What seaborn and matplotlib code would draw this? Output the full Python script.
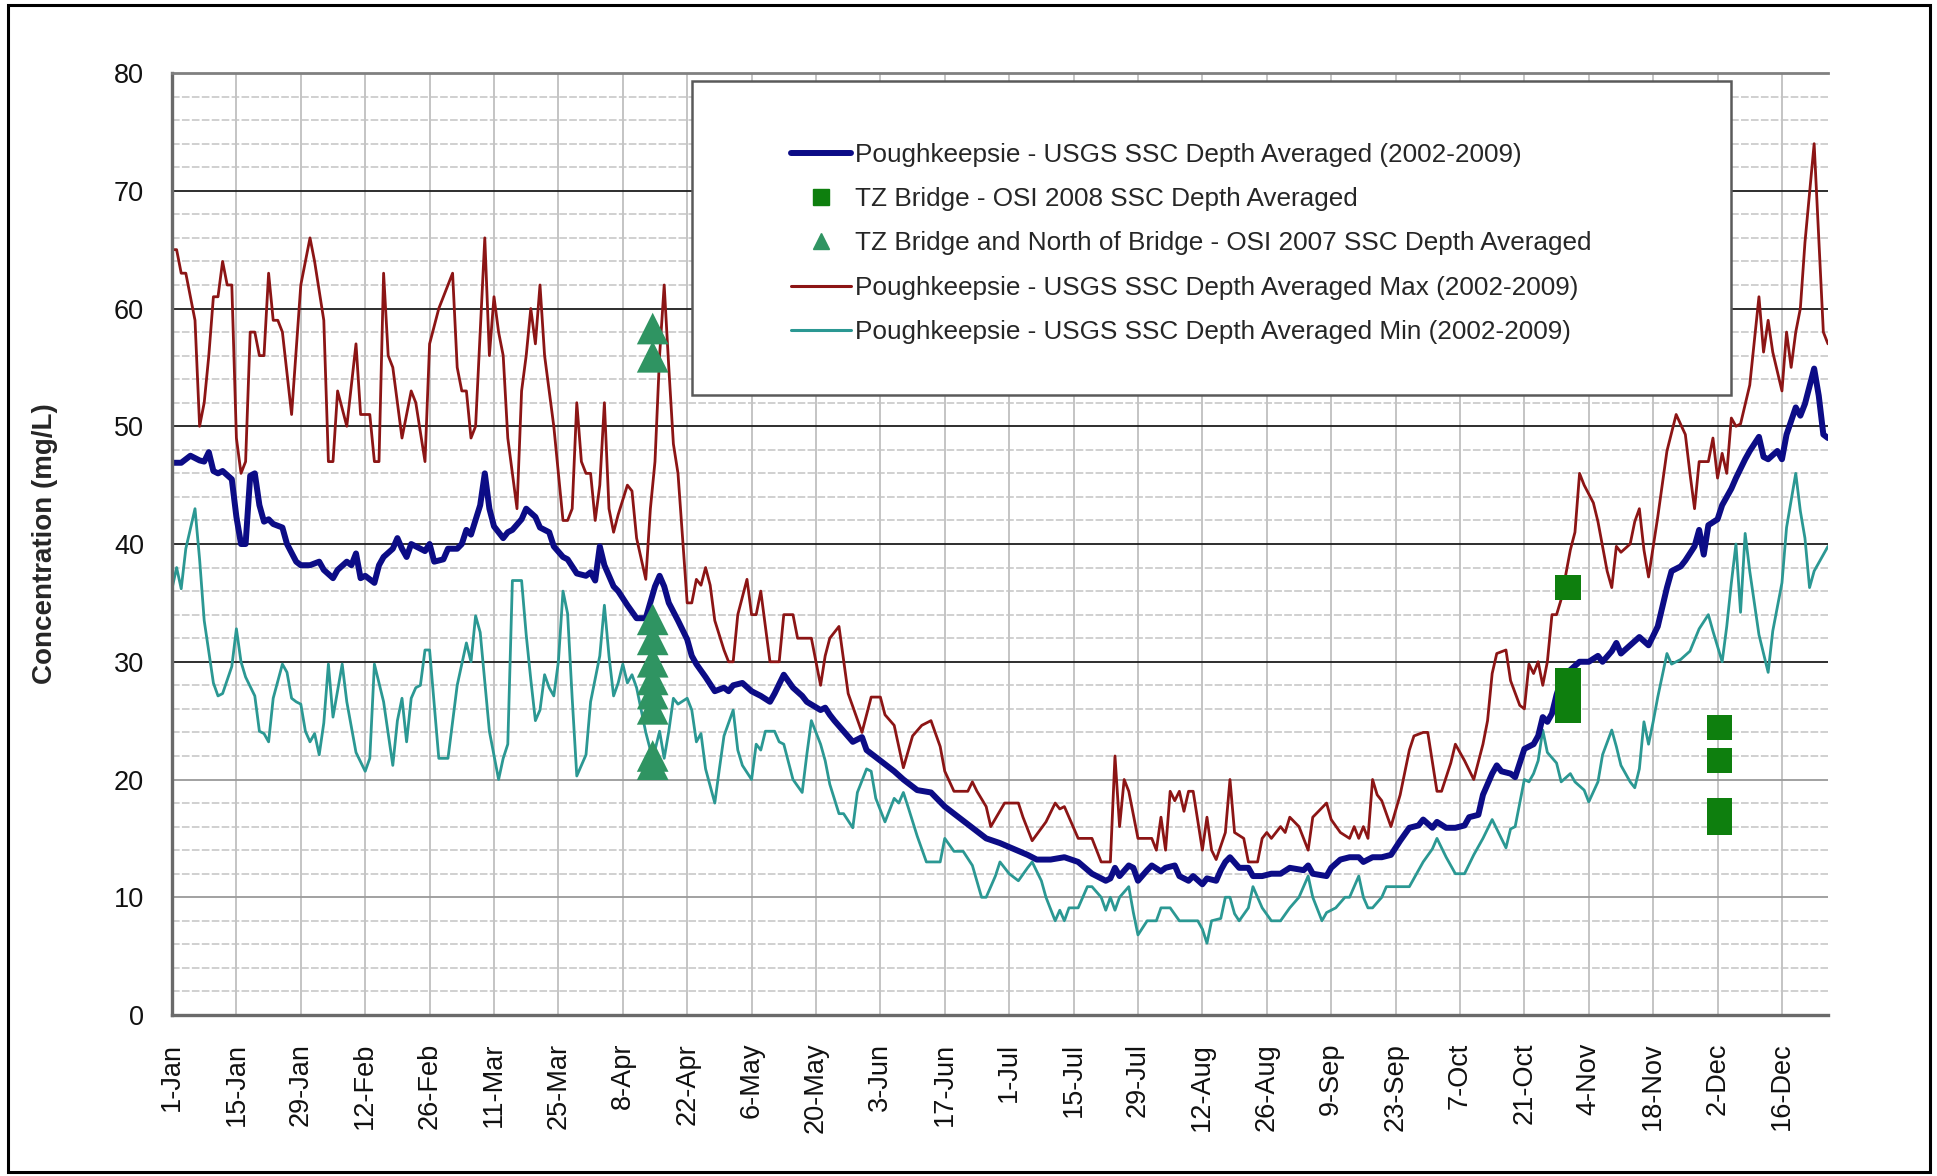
import seaborn as sns
import matplotlib.pyplot as plt
import numpy as np
from matplotlib.lines import Line2D
from matplotlib.patches import Rectangle
from matplotlib.ticker import MultipleLocator

sns.set_style("white")
plt.rcParams['font.family'] = ['Liberation Sans', 'DejaVu Sans']

# x axis: day of year (2008), ticks every 14 days
tick_labels = ['1-Jan', '15-Jan', '29-Jan', '12-Feb', '26-Feb', '11-Mar', '25-Mar',
               '8-Apr', '22-Apr', '6-May', '20-May', '3-Jun', '17-Jun', '1-Jul',
               '15-Jul', '29-Jul', '12-Aug', '26-Aug', '9-Sep', '23-Sep', '7-Oct',
               '21-Oct', '4-Nov', '18-Nov', '2-Dec', '16-Dec']

# Poughkeepsie max (2002-2009)
max_days = [0, 1, 2, 3, 5, 6, 7, 8, 9, 10, 11, 12, 13, 14, 15, 16, 17, 18, 19, 20,
            21, 22, 23, 24, 26, 28, 30, 31, 33, 34, 35, 36, 38, 40, 41, 43, 44, 45, 46, 47,
            48, 50, 52, 53, 55, 56, 58, 61, 62, 63, 64, 65, 66, 68, 69, 70, 71,
            72, 73, 75, 76, 77, 78, 79, 80, 81, 83, 85, 86, 87, 88, 89, 90, 91, 92, 93,
            94, 95, 96, 97, 99, 100, 101, 103, 104, 105, 106, 107, 108, 109, 110, 112, 113,
            114, 115, 116, 117, 118, 120, 121, 122, 123, 125, 126, 127, 128, 130, 132, 133,
            135, 136, 139, 141, 142, 143, 145, 147, 150, 152, 154, 155, 157, 159, 161, 163,
            165, 167, 168, 170, 173, 174, 175, 177, 178, 181, 184, 185, 187, 190, 192, 193,
            194, 197, 200, 202, 204, 205, 206, 207, 208, 210, 213, 214, 215, 216, 217, 218,
            219, 220, 221, 222, 224, 225, 226, 227, 229, 230, 231, 233, 234, 236, 237, 238,
            239, 241, 242, 243, 245, 247, 248, 251, 252, 254, 256, 257, 258, 259, 260, 261,
            262, 263, 265, 267, 269, 270, 272, 273, 275, 276, 278, 279, 281, 283, 285, 286,
            287, 288, 290, 291, 293, 294, 295, 296, 297, 298, 299, 300, 301, 302, 304, 305,
            306, 307, 309, 310, 312, 313, 314, 315, 317, 318, 319, 320, 321, 323, 325, 327,
            329, 330, 331, 332, 334, 335, 336, 337, 338, 339, 340, 341, 343, 345, 346, 347,
            348, 350, 351, 352, 353, 354, 355, 357, 358, 359, 360]
max_vals = [65, 65, 63, 63, 59, 50, 52, 56, 61, 61, 64, 62, 62, 49, 46, 47, 58, 58, 56, 56,
            63, 59, 59, 58, 51, 62, 66, 64, 59, 47, 47, 53, 50, 57, 51, 51, 47, 47, 63, 56,
            55, 49, 53, 52, 47, 57, 60, 63, 55, 53, 53, 49, 50, 66, 56, 61, 58,
            56, 49, 43, 53, 56, 60, 57, 62, 56, 50, 42, 42, 43, 52, 47, 46, 46, 42, 45,
            52, 43, 41, 42.5, 45, 44.5, 40.5, 37, 43, 47, 56, 62, 55, 48.5, 46, 35, 35,
            37, 36.5, 38, 36.5, 33.5, 31, 30, 30, 34, 37, 34, 34, 36, 30, 30, 34,
            34, 32, 32, 28, 30.5, 32, 33, 27.3, 24, 27, 27, 25.5, 24.6, 21, 23.7, 24.6,
            25, 22.8, 20.7, 19, 19, 19.8, 19, 17.7, 16, 18, 18, 16.8, 14.8, 16.4, 18, 17.5,
            17.7, 15, 15, 13, 13, 22, 16, 20, 19, 15, 15, 14, 16.8, 14, 19, 18.2,
            19, 17.3, 19, 19, 14, 16.8, 14, 13.2, 15.5, 20, 15.5, 15, 13, 13, 15, 15.5,
            15, 16, 15.5, 16.8, 16, 14, 16.8, 18, 16.6, 15.5, 15, 16, 15, 16, 15, 20,
            18.7, 18.2, 16, 18.7, 22.5, 23.7, 24, 24, 19, 19, 21.4, 23, 21.6, 20, 23, 25,
            29, 30.7, 31, 28.4, 26.3, 26, 29.8, 29, 30, 28, 30, 34, 34, 35.3, 39.5, 41,
            46, 45, 43.5, 41.9, 37.7, 36.3, 39.8, 39.3, 40, 41.9, 43, 39.5, 37.2, 42.3, 47.9, 51,
            49.3, 46, 43, 47, 47, 49, 45.6, 47.7, 46, 50.7, 50, 50.2, 53.5, 61, 56.3, 59,
            56.3, 53, 58, 55, 58, 60, 65.6, 74, 66, 58, 57]

# Poughkeepsie depth averaged (2002-2009)
mean_days = [0, 2, 4, 6, 7, 8, 9, 10, 11, 13, 14, 15, 16, 17, 18, 19, 20, 21, 22, 24,
             25, 27, 28, 30, 32, 33, 35, 36, 38, 39, 40, 41, 42, 44, 45, 46, 48, 49, 50, 51,
             52, 54, 55, 56, 57, 59, 60, 62, 63, 64, 65, 67, 68, 69, 70, 72, 73, 74, 76, 77,
             79, 80, 82, 83, 85, 86, 88, 90, 91, 92, 93, 94, 96, 97, 99, 101, 103, 105, 106, 107,
             108, 110, 112, 113, 114, 116, 118, 120, 121, 122, 124, 126, 128, 130, 131, 133, 135, 137, 138, 141,
             142, 143, 144, 146, 148, 150, 151, 154, 157, 159, 162, 165, 168, 171, 174, 177, 180, 183, 186, 188,
             191, 194, 197, 200, 203, 204, 205, 206, 208, 209, 210, 212, 213, 215, 216, 218, 219, 221, 222, 224,
             225, 227, 228, 229, 230, 232, 234, 235, 237, 239, 241, 243, 246, 247, 248, 251, 252, 254, 256, 258,
             259, 261, 263, 265, 267, 269, 271, 272, 274, 275, 277, 279, 281, 282, 284, 285, 287, 288, 289, 291,
             292, 293, 294, 296, 297, 298, 299, 300, 301, 302, 304, 306, 308, 310, 311, 313, 314, 315, 317, 319,
             321, 323, 325, 326, 328, 329, 331, 332, 333, 334, 336, 337, 339, 340, 342, 343, 345, 346, 347, 349,
             350, 351, 353, 354, 355, 357, 358, 359, 360]
mean_vals = [46.9, 46.9, 47.5, 47.1, 47, 47.8, 46.2, 46, 46.2, 45.5, 42.3, 40, 40, 45.8, 46, 43.3, 41.9, 42.1, 41.7, 41.4,
             40, 38.5, 38.2, 38.2, 38.5, 37.8, 37.1, 37.8, 38.5, 38.2, 39.2, 37.1, 37.3, 36.7, 38.2, 38.9, 39.6, 40.5, 39.6, 38.9,
             40, 39.6, 39.4, 40, 38.5, 38.7, 39.6, 39.6, 40, 41.2, 40.8, 43.3, 46, 43, 41.5, 40.5, 41, 41.2, 42.1, 43,
             42.3, 41.4, 41, 39.8, 38.9, 38.7, 37.5, 37.3, 37.6, 36.9, 39.8, 38.2, 36.4, 36, 34.8, 33.7, 33.7, 36.4, 37.3, 36.4,
             35, 33.5, 31.9, 30.5, 29.8, 28.7, 27.5, 27.8, 27.5, 28, 28.2, 27.5, 27.1, 26.6, 27.3, 28.9, 27.8, 27.1, 26.6, 25.9,
             26.1, 25.5, 25, 24.1, 23.2, 23.6, 22.5, 21.6, 20.7, 20, 19.1, 18.9, 17.7, 16.8, 15.9, 15, 14.6, 14.1, 13.6, 13.2,
             13.2, 13.4, 13, 12, 11.4, 11.6, 12.5, 11.8, 12.7, 12.5, 11.4, 12.3, 12.7, 12.2, 12.5, 12.7, 11.8, 11.4, 11.8, 11.1,
             11.6, 11.4, 12.3, 13, 13.4, 12.5, 12.5, 11.8, 11.8, 12, 12, 12.5, 12.3, 12.7, 12, 11.8, 12.5, 13.2, 13.4, 13.4,
             13, 13.4, 13.4, 13.6, 14.8, 15.9, 16.1, 16.6, 15.9, 16.4, 15.9, 15.9, 16.1, 16.8, 17, 18.7, 20.5, 21.2, 20.7, 20.5,
             20.2, 21.4, 22.6, 23, 23.7, 25.3, 24.9, 25.6, 27.2, 28.4, 29.3, 30, 30, 30.5, 30, 30.9, 31.6, 30.7, 31.4, 32.1,
             31.4, 33, 36.3, 37.7, 38.1, 38.6, 39.8, 41.2, 39.1, 41.6, 42.1, 43.3, 44.7, 45.6, 47.2, 47.9, 49.1, 47.4, 47.2, 47.9,
             47.2, 49.3, 51.6, 50.9, 51.9, 54.9, 52.6, 49.3, 49]

# Poughkeepsie min (2002-2009)
min_days = [0, 1, 2, 3, 5, 6, 7, 9, 10, 11, 13, 14, 15, 16, 18, 19, 20, 21, 22, 24,
            25, 26, 27, 28, 29, 30, 31, 32, 33, 34, 35, 37, 38, 40, 42, 43, 44, 46, 48, 49,
            50, 51, 52, 53, 54, 55, 56, 58, 60, 62, 64, 65, 66, 67, 69, 71, 72, 73, 74, 76,
            77, 78, 79, 80, 81, 82, 83, 84, 85, 86, 87, 88, 90, 91, 93, 94, 95, 96, 97, 98,
            99, 100, 101, 102, 103, 104, 105, 106, 107, 108, 109, 110, 112, 113, 114, 115, 116, 118, 119, 120,
            122, 123, 124, 126, 127, 128, 129, 131, 132, 133, 135, 137, 138, 139, 141, 142, 143, 145, 146, 148,
            149, 151, 152, 153, 155, 157, 158, 159, 160, 162, 164, 167, 168, 170, 172, 174, 176, 177, 179, 180,
            182, 184, 186, 187, 189, 190, 192, 193, 194, 195, 197, 199, 200, 202, 203, 204, 205, 206, 208, 209,
            210, 212, 214, 215, 217, 219, 223, 224, 225, 226, 228, 229, 230, 231, 232, 234, 235, 237, 239, 241,
            243, 245, 247, 248, 250, 251, 253, 255, 256, 258, 259, 260, 261, 263, 264, 266, 269, 272, 274, 275,
            277, 279, 281, 283, 285, 287, 288, 290, 291, 292, 294, 295, 296, 297, 298, 299, 301, 302, 304, 305,
            307, 308, 310, 311, 313, 314, 315, 317, 318, 319, 320, 321, 322, 323, 325, 326, 328, 330, 332, 334,
            335, 337, 338, 339, 340, 341, 342, 343, 345, 347, 348, 350, 351, 353, 354, 355, 356, 357, 360]
min_vals = [36.2, 38, 36.2, 39.6, 43, 38.7, 33.5, 28.2, 27.1, 27.3, 29.6, 32.8, 30, 28.7, 27.1, 24.1, 23.9, 23.2, 26.9, 29.8,
            29.1, 26.9, 26.6, 26.4, 24.1, 23.2, 23.9, 22.1, 24.8, 29.8, 25.3, 29.8, 26.6, 22.3, 20.7, 21.8, 29.8, 26.6, 21.2, 25,
            26.9, 23.2, 26.9, 27.8, 28, 31, 31, 21.8, 21.8, 28, 31.6, 30, 33.9, 32.5, 24.1, 20, 21.8, 23, 36.9, 36.9,
            32.3, 28.5, 25, 25.9, 28.9, 27.8, 27.1, 30, 36, 34.1, 26.9, 20.3, 22.1, 26.6, 30.5, 34.8, 30.5, 27.1, 28.2, 29.8,
            28.2, 28.9, 27.8, 25.9, 24, 22.5, 22.5, 24.1, 21.8, 24.1, 26.9, 26.4, 26.9, 25.9, 23.2, 23.9, 20.9, 18, 20.9, 23.7,
            25.9, 22.5, 21.2, 20, 23, 22.5, 24.1, 24.1, 23.2, 23, 20, 18.9, 22.1, 25, 23, 21.6, 19.6, 17.1, 17.1, 15.9,
            18.9, 20.9, 20.7, 18.4, 16.4, 18.4, 18, 18.9, 17.7, 15.2, 13, 13, 15, 13.9, 13.9, 12.7, 10, 10, 11.8, 13,
            12, 11.4, 12.5, 13, 11.4, 10, 8, 8.9, 8, 9.1, 9.1, 10.9, 10.9, 10, 8.9, 10, 8.9, 10, 10.9, 8.7,
            6.8, 8, 8, 9.1, 9.1, 8, 8, 7.3, 6.1, 8, 8.2, 10, 10, 8.6, 8, 9.1, 10.9, 9.1, 8, 8,
            9.1, 10, 11.8, 10, 8, 8.7, 9.1, 10, 10, 11.8, 10, 9.1, 9.1, 10, 10.9, 10.9, 10.9, 13, 14.1, 15,
            13.4, 12, 12, 13.6, 15, 16.6, 15.8, 14.2, 15.8, 16, 20, 19.8, 20.5, 21.6, 24.2, 22.3, 21.4, 19.8, 20.5, 19.8,
            19.1, 18.1, 19.8, 22.1, 24.2, 22.8, 21.2, 19.8, 19.3, 20.9, 24.9, 23, 24.9, 27, 30.7, 29.8, 30.2, 30.9, 32.8, 34,
            32.6, 30, 33, 36.7, 40, 34.2, 40.9, 37.7, 32.3, 29.1, 32.6, 36.7, 41.4, 46, 42.8, 40.5, 36.3, 37.7, 39.8]

# TZ Bridge - OSI 2008 (squares)
osi2008_days = [303.5, 303.5, 303.5, 303.5, 336.5, 336.5, 336.5, 336.5]
osi2008_vals = [36.3, 28.4, 27.2, 25.9, 24.4, 21.6, 17.4, 16.4]

# TZ Bridge and North of Bridge - OSI 2007 (triangles)
osi2007_days = [104.5] * 10
osi2007_vals = [58.3, 55.9, 33.6, 31.9, 30.0, 28.5, 27.3, 26.0, 22.0, 21.3]

c_mean = '#0c0c86'
c_max = '#8c1515'
c_min = '#2b9893'
c_sq = '#0e7f0e'
c_tri = '#2f9462'

fig = plt.figure(figsize=(19.37, 11.76), dpi=100)
ax = fig.add_axes([0.0888, 0.1369, 0.8549, 0.801])

sns.lineplot(x=max_days, y=max_vals, ax=ax, color=c_max, linewidth=2.0,
             estimator=None, sort=False)
sns.lineplot(x=min_days, y=min_vals, ax=ax, color=c_min, linewidth=2.0,
             estimator=None, sort=False)
sns.lineplot(x=mean_days, y=mean_vals, ax=ax, color=c_mean, linewidth=4.3,
             estimator=None, sort=False)
sns.scatterplot(x=osi2008_days, y=osi2008_vals, ax=ax, marker='s', s=330,
                color=c_sq, edgecolor='none', zorder=5)
sns.scatterplot(x=osi2007_days, y=osi2007_vals, ax=ax, marker='^', s=520,
                color=c_tri, edgecolor='none', zorder=5)

ax.set_xlim(0, 360)
ax.set_ylim(0, 80)
ax.set_xticks(np.arange(0, 351, 14))
ax.set_xticklabels(tick_labels, rotation=90)
ax.yaxis.set_major_locator(MultipleLocator(10))
ax.yaxis.set_minor_locator(MultipleLocator(2))
ax.set_axisbelow(True)

ax.grid(which='major', axis='x', color='#b4b4b4', linewidth=1.1)
ax.grid(which='minor', axis='y', color='#c4c4c4', linewidth=1.1, linestyle=(0, (5, 1.5)))
ax.grid(which='major', axis='y', color='#1e1e1e', linewidth=1.3)
for val, gl in zip(ax.get_yticks(), ax.get_ygridlines()):
    if val < 25:
        gl.set_color('#9a9a9a')

ax.tick_params(axis='both', which='major', direction='out', length=7, width=1.5,
               color='#555555', labelsize=19.5, labelcolor='#111111', pad=13)
ax.tick_params(axis='y', which='minor', length=0)
ax.set_xlabel('')
ax.set_ylabel('Concentration (mg/L)', fontsize=20, fontweight='bold', labelpad=40)

for side in ['left', 'bottom']:
    ax.spines[side].set_color('#6a6a6a')
    ax.spines[side].set_linewidth(2.4)
ax.spines['top'].set_color('#808080')
ax.spines['top'].set_linewidth(2)
ax.spines['right'].set_visible(False)

# legend frame and entries
ax.add_patch(Rectangle((0.314, 0.658), 0.6274, 0.3333, transform=ax.transAxes,
                       facecolor='white', edgecolor='#5a5a5a', linewidth=1.8, zorder=6))
handles = [Line2D([], [], color=c_mean, linewidth=4.3),
           Line2D([], [], color=c_sq, marker='s', linestyle='none', markersize=11),
           Line2D([], [], color=c_tri, marker='^', linestyle='none', markersize=12),
           Line2D([], [], color=c_max, linewidth=2.2),
           Line2D([], [], color=c_min, linewidth=2.2)]
labels = ['Poughkeepsie - USGS SSC Depth Averaged (2002-2009)',
          'TZ Bridge - OSI 2008 SSC Depth Averaged',
          'TZ Bridge and North of Bridge - OSI 2007 SSC Depth Averaged',
          'Poughkeepsie - USGS SSC Depth Averaged Max (2002-2009)',
          'Poughkeepsie - USGS SSC Depth Averaged Min (2002-2009)']
leg = ax.legend(handles, labels, loc='upper left', bbox_to_anchor=(0.374, 0.926),
                frameon=False, fontsize=18.8, handlelength=2.3, handletextpad=0.12,
                labelspacing=0.78, borderpad=0, borderaxespad=0)
leg.set_zorder(7)

# outer border of the picture
fig.add_artist(Rectangle((0.0041, 0.0034), 0.9923, 0.9923, transform=fig.transFigure,
                         fill=False, edgecolor='black', linewidth=2.2))

fig.savefig('out.png', dpi=100)
